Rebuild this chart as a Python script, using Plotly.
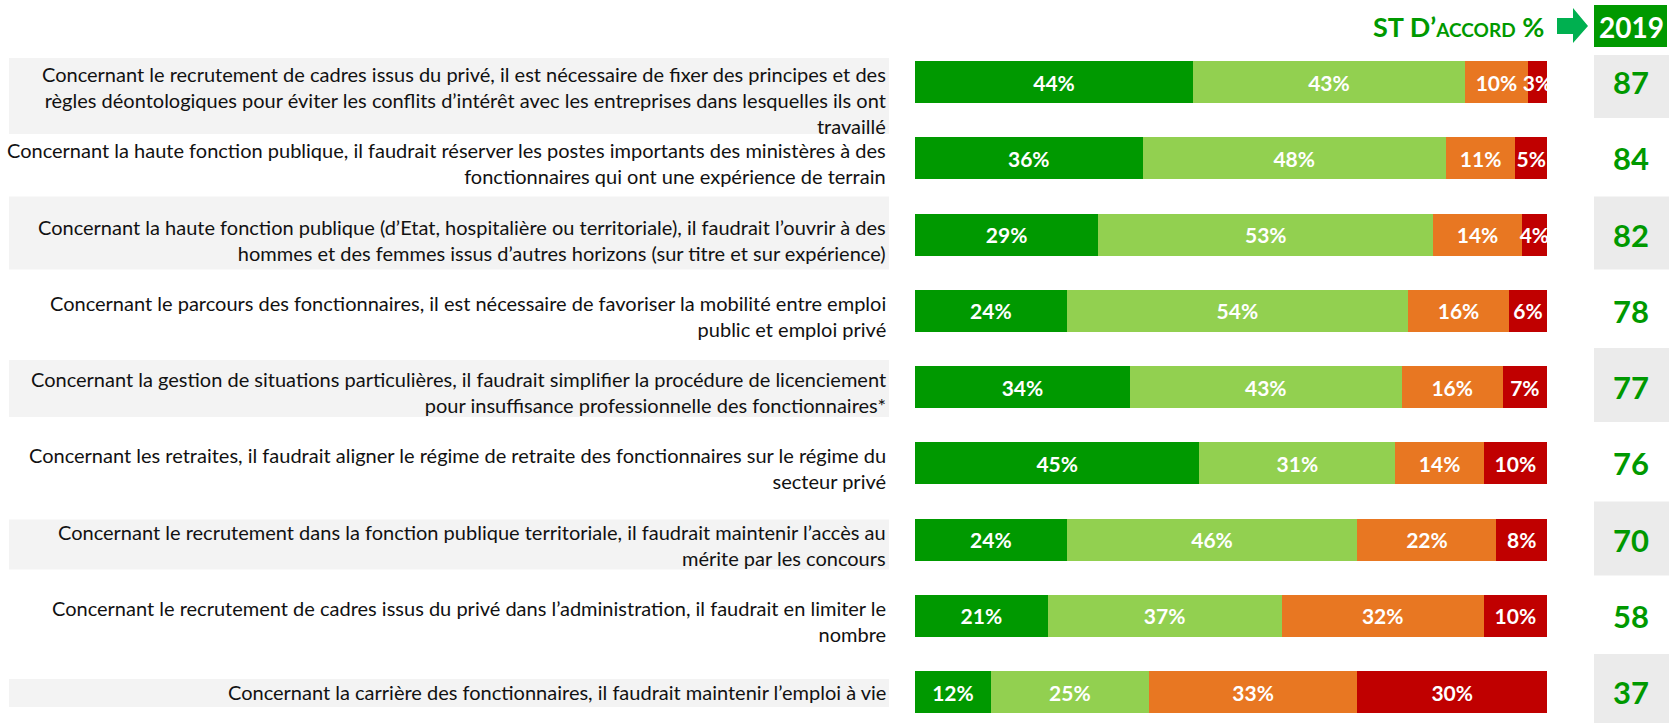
import plotly.graph_objects as go

W, H = 1669, 723

labels = [
    "Concernant le recrutement de cadres issus du privé, il est nécessaire de fixer des principes et des<br>règles déontologiques pour éviter les conflits d’intérêt avec les entreprises dans lesquelles ils ont<br>travaillé",
    "Concernant la haute fonction publique, il faudrait réserver les postes importants des ministères à des<br>fonctionnaires qui ont une expérience de terrain",
    "Concernant la haute fonction publique (d’Etat, hospitalière ou territoriale), il faudrait l’ouvrir à des<br>hommes et des femmes issus d’autres horizons (sur titre et sur expérience)",
    "Concernant le parcours des fonctionnaires, il est nécessaire de favoriser la mobilité entre emploi<br>public et emploi privé",
    "Concernant la gestion de situations particulières, il faudrait simplifier la procédure de licenciement<br>pour insuffisance professionnelle des fonctionnaires*",
    "Concernant les retraites, il faudrait aligner le régime de retraite des fonctionnaires sur le régime du<br>secteur privé",
    "Concernant le recrutement dans la fonction publique territoriale, il faudrait maintenir l’accès au<br>mérite par les concours",
    "Concernant le recrutement de cadres issus du privé dans l’administration, il faudrait en limiter le<br>nombre",
    "Concernant la carrière des fonctionnaires, il faudrait maintenir l’emploi à vie",
]
tout_a_fait = [44, 36, 29, 24, 34, 45, 24, 21, 12]
plutot_accord = [43, 48, 53, 54, 43, 31, 46, 37, 25]
plutot_pas = [10, 11, 14, 16, 16, 14, 22, 32, 33]
pas_du_tout = [3, 5, 4, 6, 7, 10, 8, 10, 30]
st_accord = [87, 84, 82, 78, 77, 76, 70, 58, 37]
header_text = "ST D’<span style='font-size:19px'>ACCORD</span> %"
year_label = "2019"

colors = ["#009900", "#92D050", "#E87722", "#C00000"]
series = [tout_a_fait, plutot_accord, plutot_pas, pas_du_tout]
names = ["Tout à fait d'accord", "Plutôt d'accord", "Plutôt pas d'accord", "Pas du tout d'accord"]

FONT = "Lato, Carlito, 'Open Sans', sans-serif"

n = len(labels)
ys = list(range(n))
row0_px, step_px = 82.0, 76.25
y_top = -row0_px / step_px
y_bot = (H - row0_px) / step_px

def px_x(x):
    return x / W

def px_y(y):
    return 1 - y / H

def d(px):  # pixel offset -> data units
    return px / step_px

fig = go.Figure()
for vals, c, nm in zip(series, colors, names):
    fig.add_trace(go.Bar(
        y=ys, x=vals, orientation="h", name=nm,
        marker=dict(color=c, line=dict(width=0)),
        width=42 / step_px,
        texttemplate="%{x}%", textposition="inside", insidetextanchor="middle",
        textangle=0, constraintext="none",
        textfont=dict(color="white", size=21, family=FONT, weight="bold"),
        hoverinfo="skip",
    ))

shapes = []
annotations = []

label_bg = {0: (-24, 52), 2: (-38, 35), 4: (-27, 30), 6: (-20, 30), 8: (-13, 15)}
value_bg = {0: (-27, 36), 2: (-38, 35), 4: (-39, 35), 6: (-38, 36), 8: (-38, 40)}
for i, (a, b) in label_bg.items():
    shapes.append(dict(type="rect", xref="paper", yref="y", x0=px_x(9), x1=px_x(889),
                       y0=i + d(a), y1=i + d(b), fillcolor="#F3F3F3", line=dict(width=0), layer="below"))
for i, (a, b) in value_bg.items():
    shapes.append(dict(type="rect", xref="paper", yref="y", x0=px_x(1594), x1=1.0,
                       y0=i + d(a), y1=i + d(b), fillcolor="#EBEBEB", line=dict(width=0), layer="below"))

shapes.append(dict(type="rect", xref="paper", yref="paper", x0=px_x(1594), x1=px_x(1667),
                   y0=px_y(47), y1=px_y(5), fillcolor="#009900", line=dict(width=0)))
arrow = [(1557, 18), (1573, 18), (1573, 8), (1588, 26), (1573, 43), (1573, 34), (1557, 34)]
path = "M " + " L ".join(f"{px_x(x)},{px_y(y)}" for x, y in arrow) + " Z"
shapes.append(dict(type="path", xref="paper", yref="paper", path=path,
                   fillcolor="#00B050", line=dict(width=0)))

annotations.append(dict(xref="paper", yref="paper", x=px_x(1546), y=px_y(27),
                        xanchor="right", yanchor="middle", showarrow=False,
                        text=f"<b>{header_text}</b>",
                        font=dict(family=FONT, size=27, color="#009900")))
annotations.append(dict(xref="paper", yref="paper", x=px_x(1631), y=px_y(27),
                        xanchor="center", yanchor="middle", showarrow=False,
                        text=f"<b>{year_label}</b>",
                        font=dict(family=FONT, size=28, color="white")))

for i, (lab, v) in enumerate(zip(labels, st_accord)):
    nlines = lab.count("<br>") + 1
    if nlines == 1:
        ya, ysh = "middle", 0
    else:
        ya, ysh = "top", 22
    annotations.append(dict(xref="paper", yref="y", x=px_x(888), y=i, yshift=ysh,
                            xanchor="right", yanchor=ya, align="right", showarrow=False,
                            text=lab, font=dict(family=FONT, size=20, color="#111111")))
    annotations.append(dict(xref="paper", yref="y", x=px_x(1631), y=i,
                            xanchor="center", yanchor="middle", showarrow=False,
                            text=f"<b>{v}</b>",
                            font=dict(family=FONT, size=31, color="#009900")))

fig.update_layout(
    width=W, height=H, barmode="stack", showlegend=False,
    margin=dict(l=0, r=0, t=0, b=0),
    paper_bgcolor="white", plot_bgcolor="rgba(0,0,0,0)",
    xaxis=dict(domain=[px_x(915), px_x(1547)], range=[0, 100], visible=False, fixedrange=True),
    yaxis=dict(range=[y_bot, y_top], visible=False, fixedrange=True),
    uniformtext=dict(minsize=21, mode="show"),
    shapes=shapes, annotations=annotations,
    font=dict(family=FONT),
)

fig.write_html(
    "out.html",
    config={"displayModeBar": False},
    post_script="document.body.style.margin='0';document.body.style.overflow='hidden';",
)
